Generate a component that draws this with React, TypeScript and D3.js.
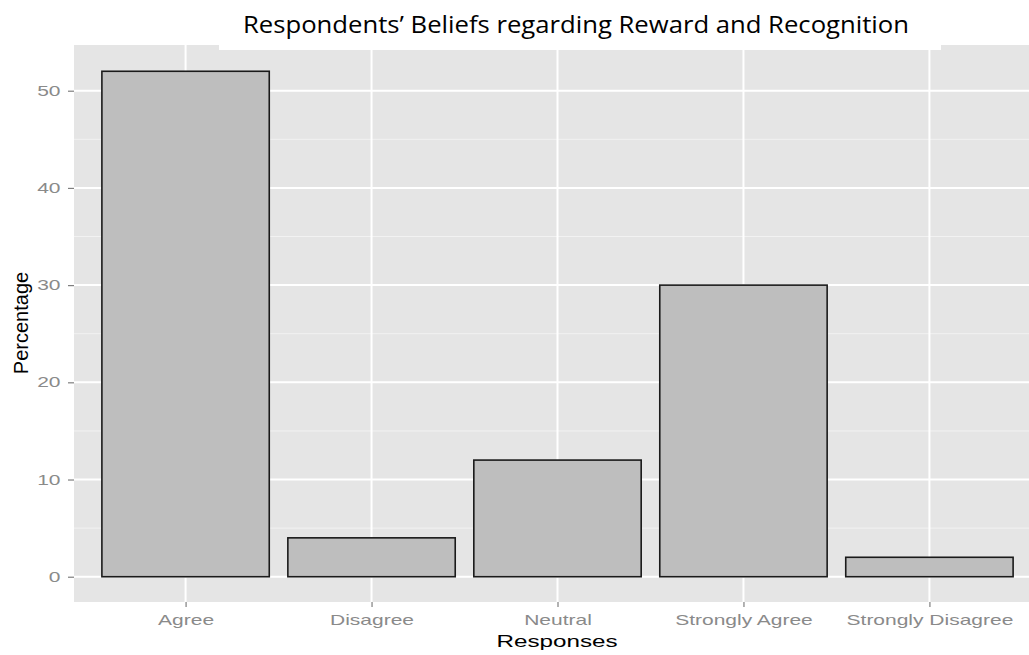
import React, { useEffect, useRef } from 'react'
import * as d3 from 'd3'

const categories = ['Agree', 'Disagree', 'Neutral', 'Strongly Agree', 'Strongly Disagree']
const percentages = [52, 4, 12, 30, 2]
const majorTicks = [0, 10, 20, 30, 40, 50]
const minorTicks = [5, 15, 25, 35, 45]

export default function App() {
  const svgRef = useRef<SVGSVGElement | null>(null)

  useEffect(() => {
    if (!svgRef.current) return
    const width = 1029
    const height = 655
    const svg = d3.select(svgRef.current)
    svg.selectAll('*').remove()
    svg.attr('width', width).attr('height', height).style('background', '#ffffff')

    const left = 74
    const right = 1041
    const top = 45
    const bottom = 602
    // the original picture is stretched sideways, so the R text is wider than normal
    const stretch = 1.5

    const x = d3.scalePoint<string>().domain(categories).range([left, right]).padding(0.6)
    const y = d3.scaleLinear().domain([-2.6, 54.6]).range([bottom, 46])
    const barWidth = x.step() * 0.9

    // panel background
    svg.append('rect')
      .attr('x', left).attr('y', top)
      .attr('width', right - left).attr('height', bottom - top)
      .attr('fill', '#e5e5e5')

    // minor gridlines
    svg.append('g').selectAll('line').data(minorTicks).enter().append('line')
      .attr('x1', left).attr('x2', right)
      .attr('y1', d => y(d)).attr('y2', d => y(d))
      .attr('stroke', '#f2f2f2').attr('stroke-width', 1)

    // major gridlines
    svg.append('g').selectAll('line').data(majorTicks).enter().append('line')
      .attr('x1', left).attr('x2', right)
      .attr('y1', d => y(d)).attr('y2', d => y(d))
      .attr('stroke', '#ffffff').attr('stroke-width', 2)

    svg.append('g').selectAll('line').data(categories).enter().append('line')
      .attr('x1', d => x(d)!).attr('x2', d => x(d)!)
      .attr('y1', top).attr('y2', bottom)
      .attr('stroke', '#ffffff').attr('stroke-width', 2)

    // bars
    svg.append('g').selectAll('rect').data(categories).enter().append('rect')
      .attr('x', d => x(d)! - barWidth / 2)
      .attr('y', (d, i) => y(percentages[i]))
      .attr('width', barWidth)
      .attr('height', (d, i) => y(0) - y(percentages[i]))
      .attr('fill', '#bebebe')
      .attr('stroke', '#1a1a1a')
      .attr('stroke-width', 1.6)

    // y axis
    const yAxis = svg.append('g')
      .attr('transform', `translate(${left}, 0)`)
      .call(d3.axisLeft(y).tickValues(majorTicks).tickSize(6).tickPadding(0))
    yAxis.select('.domain').remove()
    yAxis.selectAll('line').attr('stroke', '#7f7f7f').attr('stroke-width', 1.2)
    yAxis.selectAll('text')
      .attr('x', -9)
      .attr('transform', `scale(${stretch},1)`)
      .attr('fill', '#8a8a8a')
      .style('font-family', 'Liberation Sans, Arial, sans-serif')
      .style('font-size', '14px')

    // x axis
    const xAxis = svg.append('g')
      .attr('transform', `translate(0, ${bottom})`)
      .call(d3.axisBottom(x).tickSize(5).tickPadding(8))
    xAxis.select('.domain').remove()
    xAxis.selectAll('line').attr('stroke', '#7f7f7f').attr('stroke-width', 1.2)
    xAxis.selectAll('text')
      .attr('transform', `scale(${stretch},1)`)
      .attr('fill', '#8a8a8a')
      .style('font-family', 'Liberation Sans, Arial, sans-serif')
      .style('font-size', '14px')

    // axis titles
    svg.append('text')
      .attr('transform', `translate(557, 647) scale(${stretch * 0.95},1)`)
      .attr('text-anchor', 'middle')
      .style('font-family', 'Liberation Sans, Arial, sans-serif')
      .style('font-size', '17px')
      .attr('fill', '#000')
      .text('Responses')

    svg.append('text')
      .attr('transform', 'translate(28, 323) rotate(-90)')
      .attr('text-anchor', 'middle')
      .style('font-family', 'Liberation Sans Narrow, Liberation Sans, Arial, sans-serif')
      .style('font-size', '20px')
      .attr('fill', '#000')
      .text('Percentage')

    // title box
    svg.append('rect')
      .attr('x', 219).attr('y', 0)
      .attr('width', 722).attr('height', 50)
      .attr('fill', '#ffffff')

    svg.append('text')
      .attr('x', 576).attr('y', 33)
      .attr('text-anchor', 'middle')
      .style('font-family', 'Open Sans, sans-serif')
      .style('font-size', '24px')
      .attr('textLength', 666)
      .attr('lengthAdjust', 'spacingAndGlyphs')
      .attr('fill', '#000')
      .text('Respondents’ Beliefs regarding Reward and Recognition')
  }, [])

  return (
    <div style={{ position: 'absolute', left: 0, top: 0 }}>
      <svg ref={svgRef}></svg>
    </div>
  )
}
